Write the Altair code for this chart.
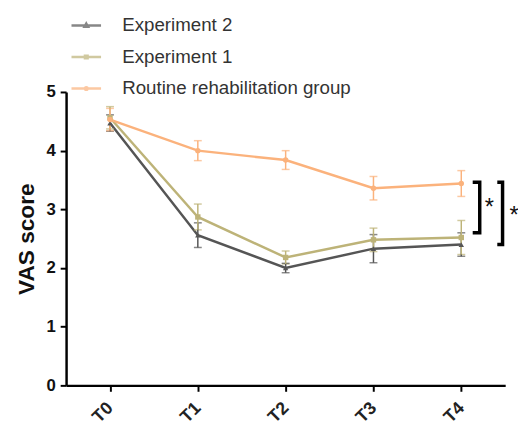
import altair as alt
import pandas as pd

# ---- data ----
timepoints = ["T0", "T1", "T2", "T3", "T4"]
groups = ["Experiment 2", "Experiment 1", "Routine rehabilitation group"]
exp2_mean = [4.47, 2.56, 2.00, 2.33, 2.40]
exp2_err = [0.14, 0.21, 0.08, 0.24, 0.20]
exp1_mean = [4.56, 2.87, 2.18, 2.48, 2.52]
exp1_err = [0.19, 0.22, 0.11, 0.20, 0.29]
routine_mean = [4.53, 4.00, 3.84, 3.36, 3.44]
routine_err = [0.19, 0.17, 0.16, 0.20, 0.22]

colors = ["#555555", "#BDB378", "#FBB27C"]
marker_shapes = ["triangle-up", "square", "circle"]
legend_paths = [
    "M-1,0H1M0,-0.13L0.12,0.08L-0.12,0.08Z",
    "M-1,0H1M-0.09,-0.09H0.09V0.09H-0.09Z",
    "M-1,0H1M0.09,0A0.09,0.09,0,1,1,-0.09,0A0.09,0.09,0,1,1,0.09,0Z",
]

# significance brackets (position in data units, right of T4)
bracket_arm_x = [4.13, 4.41]
bracket_bar_x = [4.21, 4.47]
bracket_top = [3.46, 3.46]
bracket_bottom = [2.60, 2.40]
star_x = [4.32, 4.60]
star_y = [3.02, 2.89]
star_text = ["*", "*"]

# ---- build tables ----
rows = []
for g, means, errs in zip(groups, [exp2_mean, exp1_mean, routine_mean],
                          [exp2_err, exp1_err, routine_err]):
    for i, (m, e) in enumerate(zip(means, errs)):
        rows.append({"group": g, "t": i, "mean": m, "lo": m - e, "hi": m + e})
df = pd.DataFrame(rows)

brows = []
for b in range(len(bracket_arm_x)):
    pts = [(bracket_arm_x[b], bracket_top[b]), (bracket_bar_x[b], bracket_top[b]),
           (bracket_bar_x[b], bracket_bottom[b]), (bracket_arm_x[b], bracket_bottom[b])]
    for k, (x, y) in enumerate(pts):
        brows.append({"b": b, "k": k, "x": x, "y": y})
bdf = pd.DataFrame(brows)
sdf = pd.DataFrame({"x": star_x, "y": star_y, "s": star_text})

FONT = "Liberation Sans"
TITLE = "VAS score"
color_scale = alt.Scale(domain=groups, range=colors)
label_expr = "[" + ",".join("'%s'" % t for t in timepoints) + "][datum.value]"

leg = alt.Legend(orient="none", legendX=4, legendY=-84, title=None, symbolSize=900,
                 symbolStrokeWidth=2.5, symbolOpacity=1, labelFontSize=19,
                 labelFont=FONT, labelColor="#333333", labelOffset=20, rowPadding=5,
                 labelLimit=0, padding=0, direction="vertical")

x_enc = alt.X("t:Q", scale=alt.Scale(domain=[-0.5, 4.5], nice=False, zero=False),
              axis=alt.Axis(values=list(range(len(timepoints))), labelExpr=label_expr,
                            title=None, grid=False, labelAngle=-45, labelFontSize=18,
                            labelFontWeight="bold", labelColor="#222222", labelFont=FONT,
                            tickSize=6, tickWidth=2, tickColor="black", domainWidth=2.5,
                            domainColor="black", labelPadding=14, labelAlign="right",
                            labelBaseline="middle"))
y_enc = alt.Y("mean:Q", title=TITLE, scale=alt.Scale(domain=[0, 5], nice=False),
              axis=alt.Axis(values=[0, 1, 2, 3, 4, 5], format="d", grid=False,
                            titleFontSize=23, titleFontWeight="bold", titleFont=FONT,
                            titleColor="#111111", titlePadding=8,
                            labelFontSize=17, labelFontWeight="bold", labelFont=FONT,
                            labelColor="#111111", tickSize=6, tickWidth=2,
                            tickColor="black", domainWidth=2.5, domainColor="black",
                            labelPadding=5))

base = alt.Chart(df)
lines = base.mark_line(strokeWidth=2.5).encode(
    x=x_enc, y=y_enc,
    color=alt.Color("group:N", scale=color_scale, legend=leg),
    detail="group:N",
)
errs = base.mark_errorbar(ticks=True, size=8, thickness=1.5).encode(
    x="t:Q", y=alt.Y("lo:Q", title=TITLE), y2="hi:Q",
    color=alt.Color("group:N", scale=color_scale),
)
point_layers = []
for g, shp in zip(groups, marker_shapes):
    point_layers.append(
        base.transform_filter(alt.datum.group == g)
        .mark_point(filled=True, shape=shp, size=30, opacity=1)
        .encode(x="t:Q", y=alt.Y("mean:Q", title=TITLE),
                color=alt.Color("group:N", scale=color_scale))
    )

legend_layer = alt.Chart(pd.DataFrame({"group": groups})).mark_point(
    opacity=0, filled=False).encode(
    color=alt.Color("group:N", scale=color_scale, legend=leg),
    shape=alt.Shape("group:N", scale=alt.Scale(domain=groups, range=legend_paths), legend=leg),
)

brackets = alt.Chart(bdf).mark_line(color="black", strokeWidth=3.5, strokeJoin="miter").encode(
    x="x:Q", y=alt.Y("y:Q", title=TITLE), detail="b:N", order="k:Q")
stars = alt.Chart(sdf).mark_text(fontSize=24, font=FONT, color="#111111", baseline="middle").encode(
    x="x:Q", y=alt.Y("y:Q", title=TITLE), text="s:N")

chart = alt.layer(lines, errs, *point_layers, brackets, stars, legend_layer).properties(
    width=446, height=298,
    autosize=alt.AutoSizeParams(type="none"),
    padding={"left": 59, "top": 82, "right": 13, "bottom": 40},
    background="white",
).configure_view(stroke=None)

chart.save("out.html", embed_options={"renderer": "svg", "actions": False})
